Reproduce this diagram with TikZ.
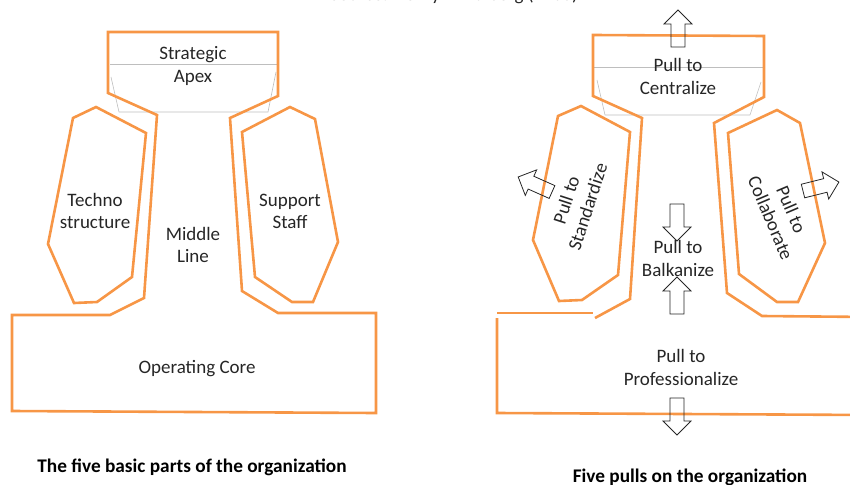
\documentclass[tikz,border=0pt]{standalone}
\usepackage{fontspec}
\setmainfont{Carlito}
\definecolor{orangeC}{RGB}{247,150,70}
\definecolor{grayC}{RGB}{190,190,190}
\definecolor{txtC}{RGB}{38,38,38}
\tikzset{
  orangeline/.style={draw=orangeC, line width=2.6pt, line join=miter},
  grayline/.style={draw=grayC, line width=0.6pt},
  blocktxt/.style={font=\fontsize{19}{22.5}\selectfont, text=txtC, align=center,
    inner sep=0pt, text height=13pt, text depth=4.5pt},
  twoline/.style={blocktxt, text height=35.5pt},
  captxt/.style={font=\fontsize{19.3}{22}\selectfont\bfseries, text=black,
    inner sep=0pt, text height=13pt, text depth=4.5pt},
  arrowline/.style={draw=black!85, line width=0.8pt, line join=miter},
  blockarrow/.pic={\draw[arrowline] (0,-7) -- (23,-7) -- (23,-14) -- (37,0) -- (23,14) -- (23,7) -- (0,7) -- cycle;}
}
\begin{document}
\begin{tikzpicture}[x=1pt,y=-1pt]
\useasboundingbox (0,0) rectangle (850,484);
\clip (0,0) rectangle (850,484);

% ---------- partially visible title ----------
\node[anchor=base east, font=\fontsize{19}{22}\selectfont, text=txtC, inner sep=0pt] (title) at (578,0.3) {Source: Henry Mintzberg (1983)};

% ================= LEFT DIAGRAM =================
% faint lines in the apex
\draw[grayline] (110,64) -- (277,64);
\draw[grayline] (111,77) -- (119,112) -- (268,112) -- (276,72);
% apex + middle line + operating core
\draw[orangeline] (108,32) -- (278,32) -- (278,96) -- (230,118) -- (242,291) -- (278,313)
  -- (376,313) -- (376,413) -- (12,411) -- (12,315) -- (110,315) -- (144,298)
  -- (157,115) -- (108,93) -- cycle;
% technostructure
\draw[orangeline] (73,118) -- (96,107) -- (146,133) -- (132,277) -- (97,302) -- (74,303) -- (48,244) -- cycle;
% support staff
\draw[orangeline] (242,132) -- (290,107) -- (315,119) -- (338,242) -- (313,302) -- (292,302) -- (255,277) -- cycle;

\node[twoline] (apex) at (193,67) {Strategic\\Apex};
\node[twoline] (techno) at (95,213) {Techno\\structure};
\node[twoline] (middle) at (193,247) {Middle\\Line};
\node[twoline] (support) at (290,213) {Support\\Staff};
\node[blocktxt] (core) at (197,369.5) {Operating Core};
\node[captxt] (cap1) at (192,467.75) {The five basic parts of the organization};

% ================= RIGHT DIAGRAM =================
\draw[grayline] (594,67) -- (763,67);
\draw[grayline] (597,80) -- (605,115) -- (750,115) -- (761,82);
\draw[orangeline] (595,318) -- (630,299) -- (642,118) -- (593,96) -- (593,35) -- (764,36)
  -- (764,97) -- (714,123) -- (727,293) -- (762,316) -- (870,317);
\draw[orangeline] (497,313) -- (593,313);
\draw[orangeline] (497,318) -- (497,413) -- (870,415);
% standardize
\draw[orangeline] (558,116) -- (581,106) -- (630,132) -- (618,275) -- (582,300) -- (559,301) -- (533,240) -- cycle;
% collaborate
\draw[orangeline] (728,133) -- (777,110) -- (800,123) -- (825,243) -- (798,302) -- (777,302) -- (739,274) -- cycle;

\node[twoline] (central) at (678,79) {Pull to\\Centralize};
\node[twoline] (balkan) at (678,260.5) {Pull to\\Balkanize};
\node[twoline] (prof) at (681,369.5) {Pull to\\Professionalize};
\node[twoline, rotate=72] (stand) at (579,204) {Pull to\\Standardize};
\node[twoline, rotate=-67] (collab) at (779,214.5) {Pull to\\Collaborate};
\node[captxt] (cap2) at (690,478) {Five pulls on the organization};

% block arrows
\pic[rotate=90] at (678,47) {blockarrow};
\pic[rotate=-90] at (677,204) {blockarrow};
\pic[rotate=90] at (677,314) {blockarrow};
\pic[rotate=-90] at (677,398) {blockarrow};
\pic[rotate=156] at (552,192) {blockarrow};
\pic[rotate=14] at (803,191) {blockarrow};
\end{tikzpicture}
\end{document}
